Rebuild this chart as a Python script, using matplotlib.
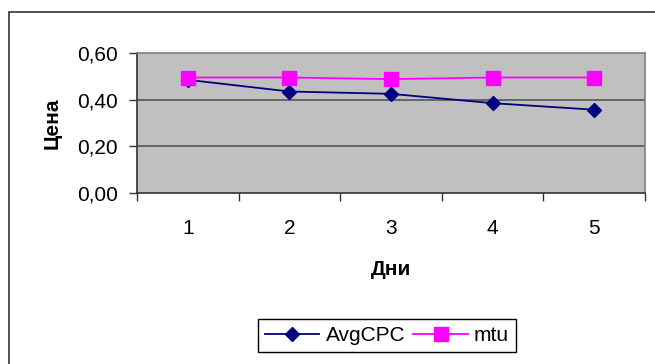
import matplotlib
matplotlib.use("Agg")
import matplotlib.pyplot as plt
from matplotlib.patches import Rectangle
from matplotlib.ticker import FixedLocator, FuncFormatter

plt.rcParams['font.family'] = ['Liberation Sans', 'DejaVu Sans']

days = [1, 2, 3, 4, 5]
avg_cpc = [0.485, 0.435, 0.425, 0.385, 0.357]
mtu = [0.495, 0.495, 0.488, 0.495, 0.495]
y_ticks = [0.0, 0.2, 0.4, 0.6]

W, H = 655, 364
fig = plt.figure(figsize=(W / 100, H / 100), dpi=100)

# outer chart border (only left/top visible, rest cropped)
fig.patches.append(Rectangle((9 / W, -0.1), 1.2, 1 - 12 / H + 0.1, transform=fig.transFigure,
                             fill=False, edgecolor='#333333', linewidth=1.2))

ax = fig.add_axes([137 / W, 1 - 193 / H, 508 / W, 140 / H])
ax.set_facecolor('#C0C0C0')

ax.plot(days, avg_cpc, color='#000080', marker='D', markersize=7.5, linewidth=1.3, label='AvgCPC')
ax.plot(days, mtu, color='#FF00FF', marker='s', markersize=10, linewidth=1.3, label='mtu')

ax.set_xlim(0.5, 5.5)
ax.set_ylim(0, 0.6)
ax.set_yticks(y_ticks)
ax.yaxis.set_major_formatter(FuncFormatter(lambda v, p: f"{v:.2f}".replace('.', ',')))
for v in y_ticks[1:-1]:
    ax.axhline(v, color='#555555', linewidth=1.2, zorder=1)

ax.xaxis.set_major_locator(FixedLocator([0.5 + i for i in range(6)]))
ax.xaxis.set_major_formatter(FuncFormatter(lambda v, p: ''))
ax.xaxis.set_minor_locator(FixedLocator(days))
ax.xaxis.set_minor_formatter(FuncFormatter(lambda v, p: f"{int(v)}"))
ax.tick_params(axis='x', which='minor', length=0, labelsize=15, pad=19)
ax.tick_params(axis='x', which='major', length=6, width=1, color='#333333')
ax.tick_params(axis='y', length=6, width=1, labelsize=15, pad=8, color='#333333')

for side in ['top', 'right']:
    ax.spines[side].set_color('#808080')
    ax.spines[side].set_linewidth(1.2)
for side in ['left', 'bottom']:
    ax.spines[side].set_color('#333333')
    ax.spines[side].set_linewidth(1.2)

ax.set_xlabel('Дни', fontsize=15, fontweight='bold')
ax.xaxis.set_label_coords(0.5, -0.48)
ax.set_ylabel('Цена', fontsize=15, fontweight='bold')
ax.yaxis.set_label_coords(-0.148, 0.5)

leg = fig.legend(loc='center', bbox_to_anchor=(387 / W, 1 - 335.5 / H), ncol=2, fontsize=15,
                 frameon=True, fancybox=False, framealpha=1, edgecolor='black',
                 handlelength=2.6, columnspacing=0.4, handletextpad=0.3, borderpad=0.35)
leg.get_frame().set_linewidth(1.0)

fig.savefig('out.png', dpi=100)
